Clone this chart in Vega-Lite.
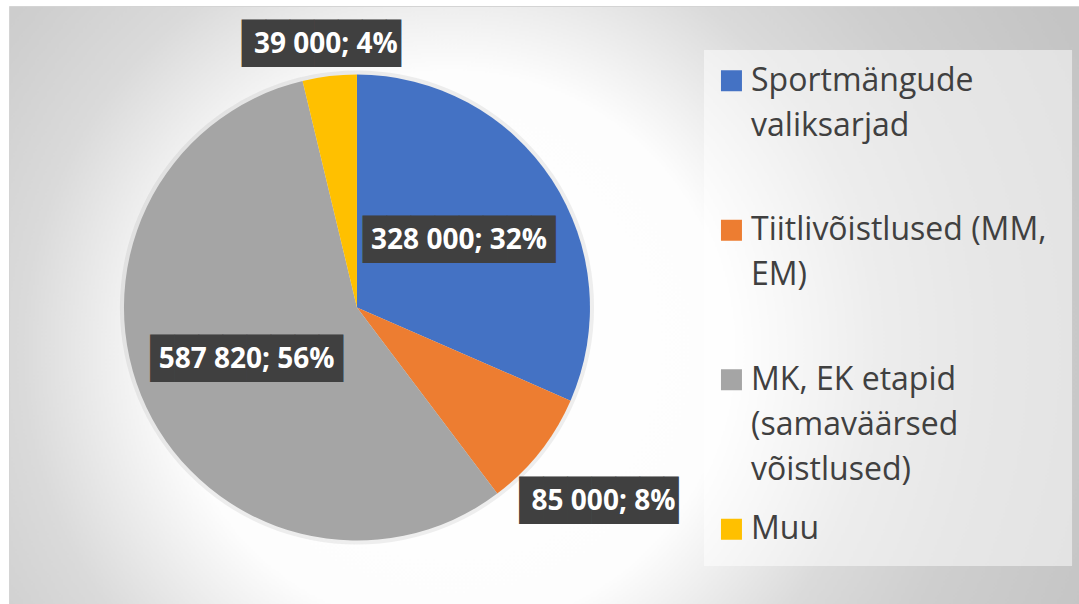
{
  "$schema": "https://vega.github.io/schema/vega-lite/v6.json",
  "width": 1079,
  "height": 604,
  "autosize": {"type": "fit", "contains": "padding"},
  "padding": {"left": 9, "top": 6, "right": 0, "bottom": 0},
  "background": "#ffffff",
  "config": {
    "font": "Open Sans",
    "view": {
      "stroke": "#d4d4d4",
      "fill": {
        "gradient": "radial",
        "x1": 0.412, "y1": 0.542, "r1": 0,
        "x2": 0.412, "y2": 0.542, "r2": 0.65,
        "stops": [
          {"offset": 0, "color": "#ffffff"},
          {"offset": 0.4, "color": "#fdfdfd"},
          {"offset": 0.615, "color": "#dadada"},
          {"offset": 0.77, "color": "#cecece"},
          {"offset": 1, "color": "#c4c4c4"}
        ]
      }
    }
  },
  "data": {
    "values": [
      {"category": "Sportmängude valiksarjad", "lines": ["Sportmängude", "valiksarjad"], "amount": 328000, "label": "328 000; 32%"},
      {"category": "Tiitlivõistlused (MM, EM)", "lines": ["Tiitlivõistlused (MM,", "EM)"], "amount": 85000, "label": "85 000; 8%"},
      {"category": "MK, EK etapid (samaväärsed võistlused)", "lines": ["MK, EK etapid", "(samaväärsed", "võistlused)"], "amount": 587820, "label": "587 820; 56%"},
      {"category": "Muu", "lines": ["Muu"], "amount": 39000, "label": "39 000; 4%"}
    ]
  },
  "transform": [{"window": [{"op": "row_number", "as": "rank"}]}],
  "resolve": {"scale": {"y": "independent"}},
  "layer": [
    {
      "data": {"values": [{}]},
      "mark": {"type": "rect", "fill": "#ffffff", "fillOpacity": 0.5},
      "encoding": {
        "x": {"datum": 0.6495, "type": "quantitative", "scale": {"domain": [0, 1]}, "axis": null},
        "x2": {"datum": 0.9935},
        "y": {"datum": 0.0736, "type": "quantitative", "scale": {"domain": [0, 1], "reverse": true}, "axis": null},
        "y2": {"datum": 0.9365}
      }
    },
    {
      "transform": [{"aggregate": [{"op": "sum", "field": "amount", "as": "total"}]}],
      "mark": {"type": "arc", "outerRadius": 237, "fill": "#7f7f7f", "opacity": 0.12},
      "encoding": {
        "x": {"datum": 0.3252, "type": "quantitative", "scale": {"domain": [0, 1]}, "axis": null},
        "y": {"datum": 0.5042, "type": "quantitative", "scale": {"domain": [0, 1], "reverse": true}, "axis": null},
        "theta": {"field": "total", "type": "quantitative"}
      }
    },
    {
      "mark": {"type": "arc", "outerRadius": 233},
      "encoding": {
        "x": {"datum": 0.3252, "type": "quantitative", "scale": {"domain": [0, 1]}, "axis": null},
        "y": {"datum": 0.5042, "type": "quantitative", "scale": {"domain": [0, 1], "reverse": true}, "axis": null},
        "theta": {"field": "amount", "type": "quantitative", "stack": true},
        "order": {"field": "rank", "type": "quantitative"},
        "color": {
          "field": "category", "type": "nominal", "sort": null, "legend": null,
          "scale": {"range": ["#4472c4", "#ed7d31", "#a5a5a5", "#ffc000"]}
        }
      }
    },
    {
      "mark": {
        "type": "text", "font": "DejaVu Sans Mono", "fontSize": 40, "align": "center", "baseline": "middle",
        "fill": "#404040",
        "radius": {"expr": "datum.amount > 200000 ? 122 : (datum.amount > 50000 ? 314 : 264)"}
      },
      "encoding": {
        "x": {"datum": 0.3252, "type": "quantitative", "scale": {"domain": [0, 1]}, "axis": null},
        "y": {"datum": 0.5042, "type": "quantitative", "scale": {"domain": [0, 1], "reverse": true}, "axis": null},
        "theta": {"field": "amount", "type": "quantitative", "stack": true},
        "order": {"field": "rank", "type": "quantitative"},
        "detail": {"field": "category", "type": "nominal"},
        "text": {"condition": {"test": "length(datum.label) > 10", "value": "████████"}, "value": "██████▋"}
      }
    },
    {
      "mark": {
        "type": "text", "fontSize": 28, "fontWeight": "bold", "align": "center", "baseline": "middle",
        "fill": "#ffffff",
        "radius": {"expr": "datum.amount > 200000 ? 122 : (datum.amount > 50000 ? 314 : 264)"}
      },
      "encoding": {
        "x": {"datum": 0.3252, "type": "quantitative", "scale": {"domain": [0, 1]}, "axis": null},
        "y": {"datum": 0.5042, "type": "quantitative", "scale": {"domain": [0, 1], "reverse": true}, "axis": null},
        "theta": {"field": "amount", "type": "quantitative", "stack": true},
        "order": {"field": "rank", "type": "quantitative"},
        "detail": {"field": "category", "type": "nominal"},
        "text": {"field": "label", "type": "nominal"}
      }
    },
    {
      "mark": {"type": "point", "shape": "square", "size": 441, "filled": true, "opacity": 1},
      "encoding": {
        "x": {"datum": 0.6752, "type": "quantitative", "scale": {"domain": [0, 1]}, "axis": null},
        "y": {"field": "category", "type": "nominal", "sort": null, "scale": {"type": "point", "padding": 0.5}, "axis": null},
        "color": {"field": "category", "type": "nominal", "sort": null, "legend": null}
      }
    },
    {
      "mark": {"type": "text", "fontSize": 32, "lineHeight": 45, "align": "left", "baseline": "alphabetic", "dy": 10, "fill": "#404040"},
      "encoding": {
        "x": {"datum": 0.6935, "type": "quantitative", "scale": {"domain": [0, 1]}, "axis": null},
        "y": {"field": "category", "type": "nominal", "sort": null, "scale": {"type": "point", "padding": 0.5}, "axis": null},
        "text": {"field": "lines", "type": "nominal"}
      }
    }
  ]
}
